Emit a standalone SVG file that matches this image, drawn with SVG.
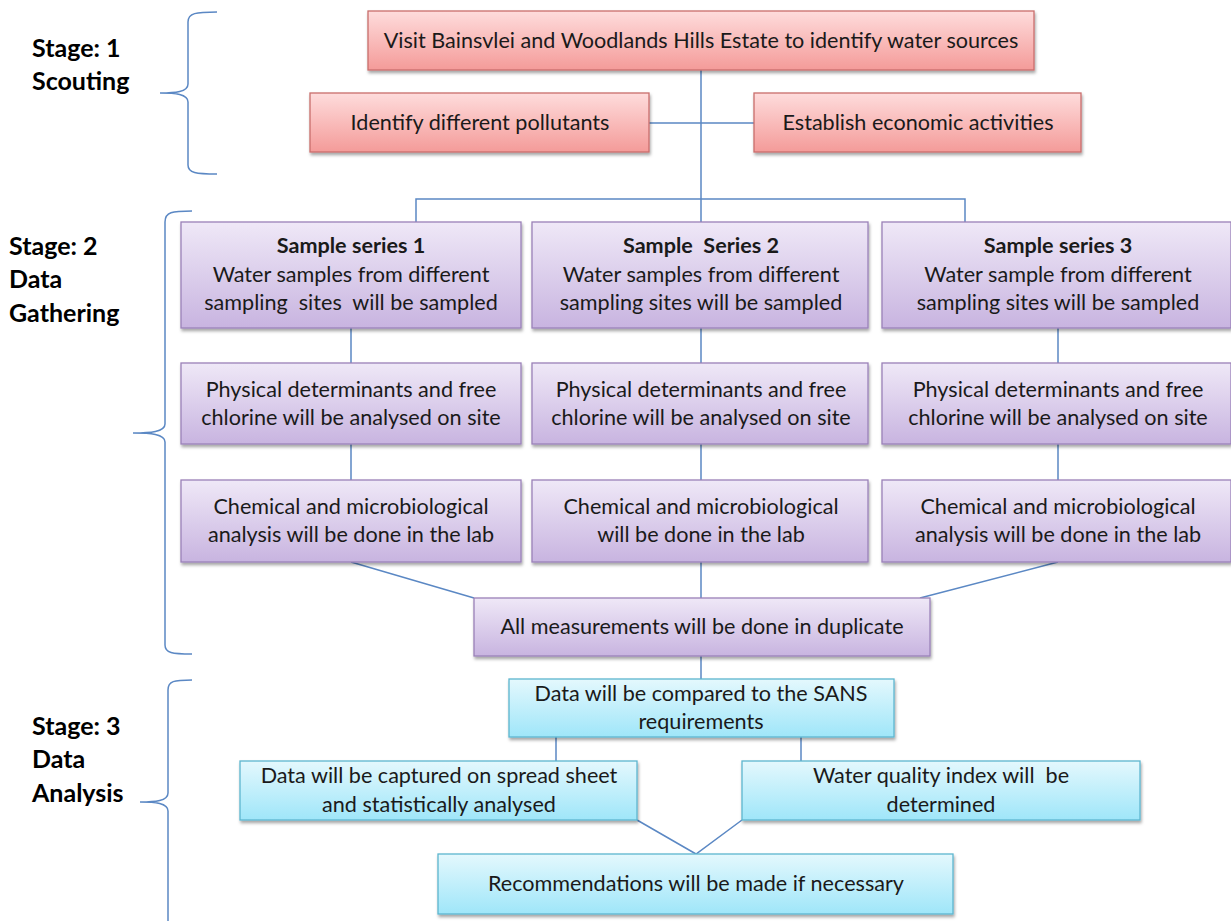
<svg xmlns="http://www.w3.org/2000/svg" width="1231" height="921" viewBox="0 0 1231 921">
<defs>
<linearGradient id="gPink" x1="0" y1="0" x2="0" y2="1"><stop offset="0" stop-color="#fedcdc"/><stop offset="1" stop-color="#f49b99"/></linearGradient>
<linearGradient id="gPurp" x1="0" y1="0" x2="0" y2="1"><stop offset="0" stop-color="#efe8f7"/><stop offset="1" stop-color="#c8b4e0"/></linearGradient>
<linearGradient id="gCyan" x1="0" y1="0" x2="0" y2="1"><stop offset="0" stop-color="#e4f8fd"/><stop offset="1" stop-color="#9fe6f9"/></linearGradient>
<filter id="sh" x="-5%" y="-10%" width="110%" height="130%"><feDropShadow dx="1" dy="2.5" stdDeviation="1.5" flood-color="#000" flood-opacity="0.35"/></filter>
<style>
.pink{fill:url(#gPink);stroke:#c96e6c;stroke-width:1.3;filter:url(#sh)}
.purp{fill:url(#gPurp);stroke:#9a81b8;stroke-width:1.3;filter:url(#sh)}
.cyan{fill:url(#gCyan);stroke:#5db6cf;stroke-width:1.3;filter:url(#sh)}
text{font-family:Lato,"Open Sans","Liberation Sans",sans-serif;font-size:21.6px;fill:#1a1a1a;text-anchor:middle}
.b{font-weight:bold}
.st{font-family:Lato,"Open Sans","Liberation Sans",sans-serif;font-size:25px;font-weight:bold;text-anchor:start;fill:#000}
.ln{fill:none;stroke:#5b88c4;stroke-width:1.5}
</style>
</defs>
<g id="braces" class="ln">
<path class="ln" d="M217,12 C196,12 188,13 188,22 L188,84 C188,92 175,93 160,93 C175,93 188,94 188,102 L188,165 C188,173 196,174 217,174"/>
<path class="ln" d="M192,211 C172,211 165,212 165,222 L165,424 C165,432 150,433 133,433 C150,433 165,434 165,442 L165,645 C165,653 172,654 192,654"/>
<path class="ln" d="M192,680 C174,680 168,681 168,690 L168,793 C168,801 155,802 140,802 C155,802 168,803 168,811 L168,921"/>
</g>
<g id="labels">
<text class="st" x="32" y="57">Stage: 1</text>
<text class="st" x="32" y="90">Scouting</text>
<text class="st" x="9" y="255">Stage: 2</text>
<text class="st" x="9" y="288">Data</text>
<text class="st" x="9" y="322">Gathering</text>
<text class="st" x="32" y="735">Stage: 3</text>
<text class="st" x="32" y="768">Data</text>
<text class="st" x="32" y="802">Analysis</text>
</g>
<g id="connectors" class="ln">
<path class="ln" d="M701,70 V222 M649,123 H754 M416,222 V199 H965 V222"/>
<path class="ln" d="M351,328 V363 M701,328 V363 M1058,328 V363"/>
<path class="ln" d="M351,444 V480 M701,444 V480 M1058,444 V480"/>
<path class="ln" d="M351,562 L474,598 M701,562 V598 M1058,562 L920,598"/>
<path class="ln" d="M701,656 V679 M556,737 V761 M801,737 V761"/>
<path class="ln" d="M637,820 L696,854 L742,820"/>
</g>
<g id="n1"><rect class="pink" x="368" y="11" width="666" height="59"/><text x="701" y="48">Visit Bainsvlei and Woodlands Hills Estate to identify water sources</text></g>
<g id="n2"><rect class="pink" x="310" y="93" width="339" height="59"/><text x="480" y="130">Identify different pollutants</text></g>
<g id="n3"><rect class="pink" x="754" y="93" width="327" height="59"/><text x="918" y="130">Establish economic activities</text></g>
<g id="s1"><rect class="purp" x="181" y="222" width="340" height="106"/><text class="b" x="351" y="253">Sample series 1</text><text x="351" y="282" xml:space="preserve">Water samples from different</text><text x="351" y="310" xml:space="preserve">sampling  sites  will be sampled</text></g>
<g id="s2"><rect class="purp" x="532" y="222" width="336" height="106"/><text class="b" x="701" y="253" xml:space="preserve">Sample  Series 2</text><text x="701" y="282">Water samples from different</text><text x="701" y="310">sampling sites will be sampled</text></g>
<g id="s3"><rect class="purp" x="882" y="222" width="349" height="106"/><text class="b" x="1058" y="253">Sample series 3</text><text x="1058" y="282">Water sample from different</text><text x="1058" y="310">sampling sites will be sampled</text></g>
<g id="p1"><rect class="purp" x="181" y="363" width="340" height="81"/><text x="351" y="397">Physical determinants and free</text><text x="351" y="425">chlorine will be analysed on site</text></g>
<g id="p2"><rect class="purp" x="532" y="363" width="336" height="81"/><text x="701" y="397">Physical determinants and free</text><text x="701" y="425">chlorine will be analysed on site</text></g>
<g id="p3"><rect class="purp" x="882" y="363" width="349" height="81"/><text x="1058" y="397">Physical determinants and free</text><text x="1058" y="425">chlorine will be analysed on site</text></g>
<g id="c1"><rect class="purp" x="181" y="480" width="340" height="82"/><text x="351" y="514">Chemical and microbiological</text><text x="351" y="542">analysis will be done in the lab</text></g>
<g id="c2"><rect class="purp" x="532" y="480" width="336" height="82"/><text x="701" y="514">Chemical and microbiological</text><text x="701" y="542">will be done in the lab</text></g>
<g id="c3"><rect class="purp" x="882" y="480" width="349" height="82"/><text x="1058" y="514">Chemical and microbiological</text><text x="1058" y="542">analysis will be done in the lab</text></g>
<g id="dup"><rect class="purp" x="474" y="598" width="456" height="58"/><text x="702" y="634">All measurements will be done in duplicate</text></g>
<g id="cmp"><rect class="cyan" x="509" y="679" width="385" height="58"/><text x="701" y="701">Data will be compared to the SANS</text><text x="701" y="729">requirements</text></g>
<g id="cap"><rect class="cyan" x="240" y="761" width="397" height="59"/><text x="439" y="783">Data will be captured on spread sheet</text><text x="439" y="812">and statistically analysed</text></g>
<g id="wqi"><rect class="cyan" x="742" y="761" width="398" height="59"/><text x="941" y="783" xml:space="preserve">Water quality index will  be</text><text x="941" y="812">determined</text></g>
<g id="rec"><rect class="cyan" x="438" y="854" width="515" height="60"/><text x="696" y="891">Recommendations will be made if necessary</text></g>
</svg>
